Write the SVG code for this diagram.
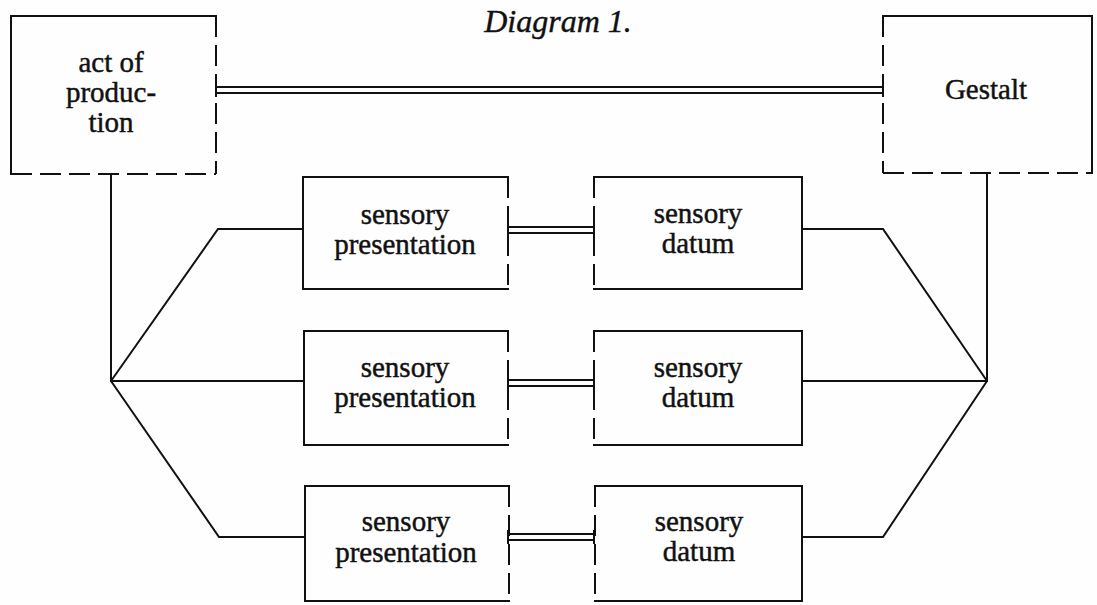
<svg xmlns="http://www.w3.org/2000/svg" width="1097" height="605" viewBox="0 0 1097 605">
<style>
.solid{fill:none;stroke:#111;stroke-width:2;stroke-linejoin:miter;stroke-linecap:square}
.dash{fill:none;stroke:#111;stroke-width:2;stroke-dasharray:21 8}
.link{fill:none;stroke:#111;stroke-width:2;stroke-linejoin:miter}
.t{font-family:"Liberation Serif","Times New Roman",serif;font-size:29px;fill:#111;stroke:#111;stroke-width:0.45;text-anchor:middle}
.title{font-family:"Liberation Serif","Times New Roman",serif;font-size:32px;font-style:italic;fill:#111;stroke:#111;stroke-width:0.4;text-anchor:middle}
</style>
<rect width="1097" height="605" fill="#fefefe"/>
<text class="title" x="558" y="32">Diagram 1.</text>

<g id="connectors">
  <!-- double line production - Gestalt -->
  <path class="link" d="M216,87 H883 M216,93 H883 M216,83 V97 M883,83 V97"/>
  <!-- double lines presentation - datum -->
  <path class="link" d="M508,227 H594 M508,233 H594 M508,223 V237 M594,223 V237"/>
  <path class="link" d="M508,380 H594 M508,386 H594 M508,376 V390 M594,376 V390"/>
  <path class="link" d="M508,534 H594 M508,540 H594 M508,530 V544 M594,530 V544"/>
  <!-- left fan -->
  <path class="link" d="M111,174 V381 H303"/>
  <path class="link" d="M111,381 L218,229 H303"/>
  <path class="link" d="M111,381 L219,537 H304"/>
  <!-- right fan -->
  <path class="link" d="M987,173 V381 H802"/>
  <path class="link" d="M987,381 L883,229 H802"/>
  <path class="link" d="M987,381 L883,537 H802"/>
</g>

<g id="act-of-production">
  <path class="solid" d="M11,174 V16 H216"/>
  <path class="dash" d="M216,16 V174"/>
  <path class="dash" d="M11,174 H216"/>
  <text class="t" x="111" y="72">act of</text>
  <text class="t" x="111" y="102">produc-</text>
  <text class="t" x="111" y="132">tion</text>
</g>

<g id="gestalt">
  <path class="solid" d="M883,16 H1092 V173"/>
  <path class="dash" d="M883,16 V173"/>
  <path class="dash" d="M883,173 H1092"/>
  <text class="t" x="986" y="99">Gestalt</text>
</g>

<g id="presentation-1">
  <path class="solid" d="M508,177 H303 V289 H508"/>
  <path class="dash" d="M508,177 V289"/>
  <text class="t" x="405" y="224">sensory</text>
  <text class="t" x="405" y="254">presentation</text>
</g>
<g id="datum-1">
  <path class="solid" d="M594,177 H802 V289 H594"/>
  <path class="dash" d="M594,177 V289"/>
  <text class="t" x="698" y="223">sensory</text>
  <text class="t" x="698" y="253">datum</text>
</g>

<g id="presentation-2">
  <path class="solid" d="M508,331 H304 V445 H508"/>
  <path class="dash" d="M508,331 V445"/>
  <text class="t" x="405" y="377">sensory</text>
  <text class="t" x="405" y="407">presentation</text>
</g>
<g id="datum-2">
  <path class="solid" d="M594,331 H802 V445 H594"/>
  <path class="dash" d="M594,331 V445"/>
  <text class="t" x="698" y="377">sensory</text>
  <text class="t" x="698" y="407">datum</text>
</g>

<g id="presentation-3">
  <path class="solid" d="M509,486 H305 V601 H509"/>
  <path class="dash" d="M509,486 V601"/>
  <text class="t" x="406" y="531">sensory</text>
  <text class="t" x="406" y="562">presentation</text>
</g>
<g id="datum-3">
  <path class="solid" d="M595,486 H802 V601 H595"/>
  <path class="dash" d="M595,486 V601"/>
  <text class="t" x="699" y="531">sensory</text>
  <text class="t" x="699" y="561">datum</text>
</g>
</svg>
